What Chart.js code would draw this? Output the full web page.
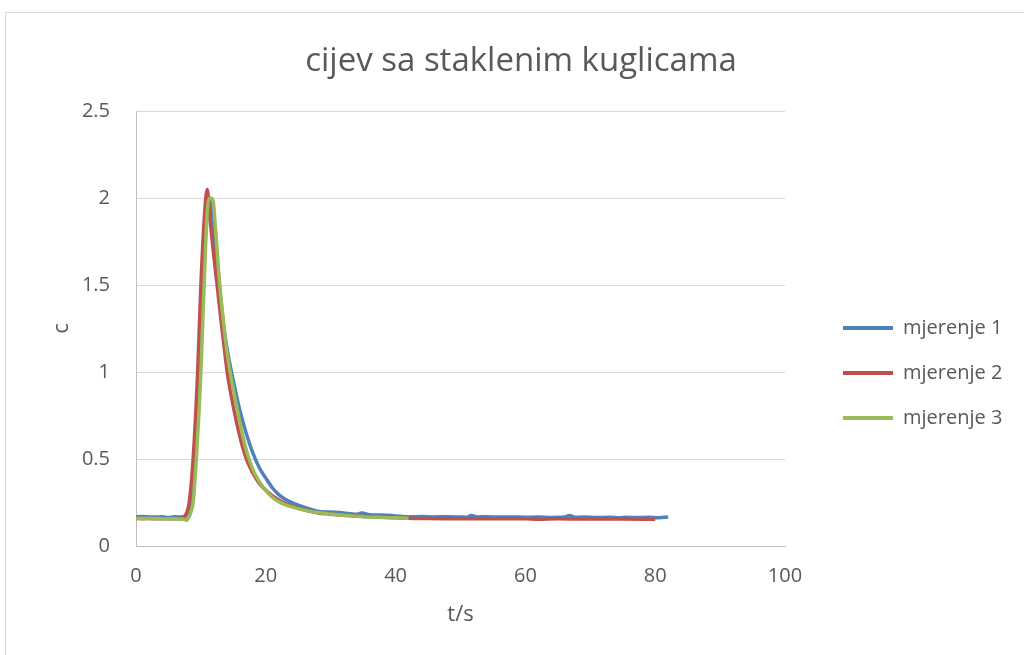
<!DOCTYPE html>
<html>
<head>
<meta charset="utf-8">
<script src="https://cdn.jsdelivr.net/npm/chart.js@4.4.1/dist/chart.umd.min.js"></script>
<style>
  html, body { margin: 0; padding: 0; background: #fff; overflow: hidden; }
  #frame { position: absolute; left: 5px; top: 12px; border-left: 1px solid #d9d9d9; border-top: 1px solid #d9d9d9; }
  canvas { display: block; }
</style>
</head>
<body>
<div id="frame"><canvas id="chart" width="1030" height="720"></canvas></div>
<script>
const chartTitle = "cijev sa staklenim kuglicama";
const seriesNames = ["mjerenje 1", "mjerenje 2", "mjerenje 3"];
const seriesColors = ["#4F81BD", "#C0504D", "#9BBB59"];
const xTicks = [0, 20, 40, 60, 80, 100];
const yTicks = [0, 0.5, 1, 1.5, 2, 2.5];

// [t, c]
const mjerenje1 = [
  [0, 0.168], [1, 0.169], [2, 0.167], [3, 0.166], [4, 0.168], [5, 0.164], [6, 0.168], [7, 0.166],
  [7.6, 0.17], [8, 0.19], [8.5, 0.26], [9, 0.45], [9.5, 0.8], [10, 1.25], [10.5, 1.65], [11, 1.93],
  [11.4, 1.98], [11.8, 1.9], [12.3, 1.7], [12.9, 1.48], [13.5, 1.27], [14, 1.14], [14.5, 1.04], [15, 0.95],
  [16, 0.78], [17, 0.645], [18, 0.535], [19, 0.45], [20, 0.39], [21, 0.335], [22, 0.295], [23, 0.268],
  [24, 0.25], [25, 0.235], [26, 0.222], [27, 0.21], [28, 0.2], [30, 0.195], [32, 0.19], [33, 0.186],
  [34, 0.182], [34.8, 0.19], [36, 0.18], [38, 0.178], [40, 0.173], [42, 0.168], [44, 0.169], [46, 0.167],
  [48, 0.168], [50, 0.167], [51, 0.165], [51.7, 0.176], [52.5, 0.167], [54, 0.168], [56, 0.166], [58, 0.167],
  [60, 0.165], [62, 0.166], [64, 0.164], [66, 0.166], [66.8, 0.176], [67.6, 0.165], [69, 0.166], [71, 0.164],
  [73, 0.165], [74.5, 0.162], [75.5, 0.165], [77, 0.164], [79, 0.165], [80.5, 0.163], [82, 0.167]
];
const mjerenje2 = [
  [0, 0.158], [1, 0.157], [2, 0.158], [3, 0.156], [4, 0.157], [5, 0.156], [6, 0.157], [7, 0.158],
  [7.3, 0.165], [7.8, 0.19], [8.2, 0.25], [8.8, 0.5], [9.5, 1.0], [10, 1.5], [10.5, 1.87], [10.97, 2.05],
  [11.4, 1.88], [12, 1.66], [12.5, 1.5], [13, 1.33], [13.5, 1.17], [14.05, 1.0], [15, 0.8], [16, 0.63],
  [17, 0.5], [18, 0.42], [19, 0.36], [20, 0.32], [21, 0.29], [22, 0.265], [23, 0.245], [24, 0.23],
  [25, 0.218], [26, 0.207], [27, 0.198], [28, 0.19], [30, 0.183], [32, 0.177], [34, 0.172], [36, 0.168],
  [38, 0.165], [40, 0.163], [42, 0.16], [45, 0.158], [48, 0.157], [50, 0.157], [55, 0.156], [60, 0.156],
  [62, 0.154], [65, 0.156], [70, 0.155], [75, 0.155], [80, 0.154]
];
const mjerenje3 = [
  [0, 0.16], [1, 0.159], [2, 0.158], [3, 0.158], [4, 0.157], [5, 0.157], [6, 0.156], [7, 0.155],
  [7.5, 0.152], [7.8, 0.148], [8.2, 0.17], [8.5, 0.2], [8.8, 0.25], [9.3, 0.5], [10, 1.0], [10.5, 1.5],
  [10.9, 1.87], [11.2, 1.99], [11.5, 2.0], [11.9, 1.98], [12.2, 1.85], [12.5, 1.7], [12.9, 1.5], [13.5, 1.28],
  [14, 1.12], [14.5, 1.0], [15, 0.9], [16, 0.71], [17, 0.55], [18, 0.44], [19, 0.37], [20, 0.32],
  [21, 0.28], [22, 0.255], [23, 0.237], [24, 0.225], [25, 0.215], [26, 0.206], [28, 0.192], [30, 0.184],
  [32, 0.177], [35, 0.168], [38, 0.164], [40, 0.162], [42, 0.16]
];

const textColor = "#595959";
const fontFamily = '"Open Sans", sans-serif';
const legendFontSize = 20;

// layout targets (canvas px)
const W = 1030;
const plotLeft = 130;
const plotRight = 779;
const legendBoxLeft = 837;
const legendPad = 25;
const legendBoxW = 50;

const probe = document.createElement("canvas").getContext("2d");
probe.font = legendFontSize + "px " + fontFamily;
const textW = Math.max(...seriesNames.map(s => probe.measureText(s).width));
const legendW = legendPad + legendBoxW + legendFontSize / 2 + textW + 10;
const gap = legendBoxLeft - legendPad - plotRight;
const sidePad = Math.max(0, W - plotRight - gap - legendW);

const datasets = [mjerenje1, mjerenje2, mjerenje3].map((pts, i) => ({
  label: seriesNames[i],
  data: pts.map(p => ({ x: p[0], y: p[1] })),
  borderColor: seriesColors[i],
  backgroundColor: seriesColors[i],
  borderWidth: 3.5,
  pointRadius: 0,
  fill: false,
  cubicInterpolationMode: "monotone",
  order: 3 - i
}));

new Chart(document.getElementById("chart"), {
  type: "line",
  data: { datasets },
  options: {
    responsive: false,
    animation: false,
    events: [],
    layout: { padding: { left: sidePad, right: sidePad, top: 0, bottom: 0 } },
    plugins: {
      title: {
        display: true,
        text: chartTitle,
        color: textColor,
        font: { family: fontFamily, size: 33, weight: "normal" },
        padding: { top: 29.2, bottom: 29.2 }
      },
      legend: {
        position: "right",
        maxWidth: 400,
        labels: {
          color: textColor,
          font: { family: fontFamily, size: legendFontSize },
          boxWidth: legendBoxW,
          boxHeight: 4,
          padding: legendPad,
          sort: (a, b) => a.datasetIndex - b.datasetIndex,
          generateLabels: chart => Chart.defaults.plugins.legend.labels.generateLabels(chart)
            .map(item => Object.assign(item, { lineWidth: 0 }))
        }
      },
      tooltip: { enabled: false }
    },
    scales: {
      x: {
        type: "linear",
        min: 0,
        max: 100,
        afterBuildTicks: s => { s.ticks = xTicks.map(v => ({ value: v })); },
        afterFit: s => { s.height = 187; },
        grid: { display: false, drawTicks: false },
        border: { display: true, color: "#bfbfbf", width: 1 },
        ticks: { color: textColor, padding: 18.5, font: { family: fontFamily, size: 20 }, callback: v => String(v) },
        title: {
          display: true, text: "t/s", color: textColor,
          font: { family: fontFamily, size: 22 },
          padding: { top: 0, bottom: 104.8 }
        }
      },
      y: {
        type: "linear",
        min: 0,
        max: 2.5,
        afterBuildTicks: s => { s.ticks = yTicks.map(v => ({ value: v })); },
        afterFit: s => { s.width = plotLeft - sidePad; },
        grid: { color: "#d9d9d9", lineWidth: 1, drawTicks: false },
        border: { display: true, color: "#bfbfbf", width: 1 },
        ticks: { color: textColor, padding: 26, font: { family: fontFamily, size: 20 }, callback: v => String(v) },
        title: {
          display: true, text: "c", color: textColor,
          font: { family: fontFamily, size: 22 },
          padding: { top: 43 - sidePad, bottom: 0 }
        }
      },
      gap: {
        type: "linear",
        position: "right",
        display: true,
        afterFit: s => { s.width = gap; },
        grid: { display: false },
        border: { display: false },
        ticks: { display: false }
      }
    }
  }
});
</script>
</body>
</html>
